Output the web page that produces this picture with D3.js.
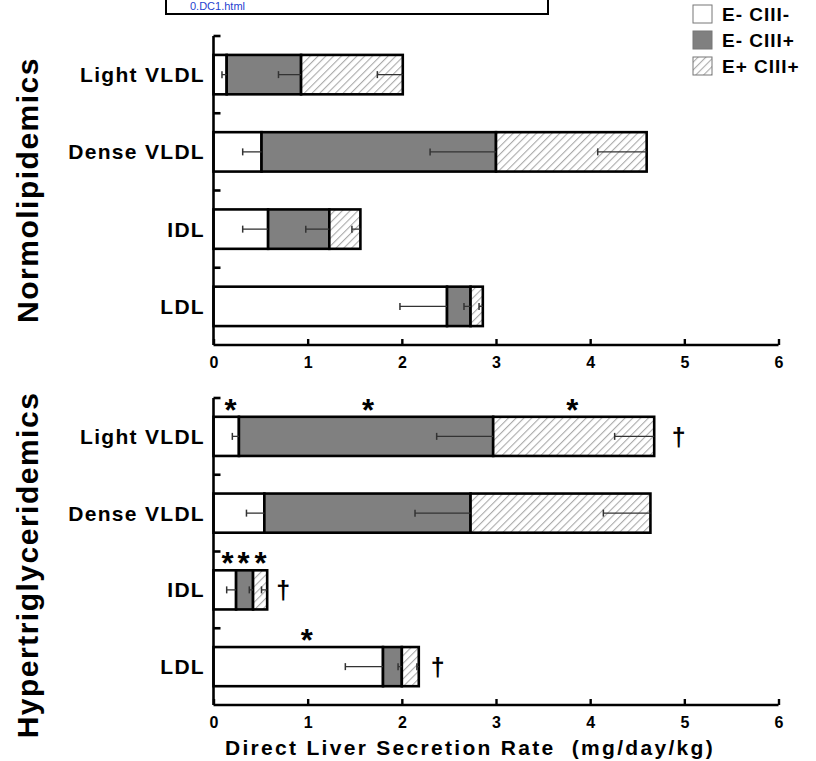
<!DOCTYPE html>
<html><head><meta charset="utf-8">
<script src="https://cdn.jsdelivr.net/npm/d3@7"></script>
<style>body{margin:0;background:#fff}svg{display:block;font-family:"Liberation Sans",Arial,sans-serif}</style>
</head><body>
<script>
const categories = ["Light VLDL","Dense VLDL","IDL","LDL"];
const seriesNames = ["E- CIII-","E- CIII+","E+ CIII+"];
const xTicks = [0,1,2,3,4,5,6];
// segment values (stacked), per category: [E- CIII-, E- CIII+, E+ CIII+]
const normoValues = [[0.14,0.79,1.08],[0.51,2.49,1.60],[0.58,0.65,0.33],[2.48,0.25,0.13]];
const normoErrors = [[0.05,0.24,0.27],[0.20,0.70,0.52],[0.27,0.25,0.09],[0.50,0.07,0.04]];
const hyperValues = [[0.27,2.70,1.71],[0.54,2.19,1.91],[0.24,0.18,0.15],[1.80,0.20,0.18]];
const hyperErrors = [[0.07,0.60,0.42],[0.19,0.59,0.50],[0.10,0.04,0.06],[0.40,0.04,0.02]];
// significance marks (hyper panel)
const asteriskMarks = [{cat:"Light VLDL",x:0.18},{cat:"Light VLDL",x:1.64},{cat:"Light VLDL",x:3.81},
  {cat:"IDL",x:0.15},{cat:"IDL",x:0.32},{cat:"IDL",x:0.50},{cat:"LDL",x:0.99}];
const daggerMarks = [{cat:"Light VLDL",x:4.94},{cat:"IDL",x:0.74},{cat:"LDL",x:2.38}];

const W=816,H=761;
const svg=d3.select("body").append("svg").attr("width",W).attr("height",H);
const defs=svg.append("defs");
const pat=defs.append("pattern").attr("id","hatch").attr("patternUnits","userSpaceOnUse")
  .attr("width",5.5).attr("height",5.5).attr("patternTransform","rotate(45)");
pat.append("rect").attr("width",5.5).attr("height",5.5).attr("fill","#fff");
pat.append("line").attr("x1",0).attr("y1",0).attr("x2",0).attr("y2",5.5).attr("stroke","#aaaaaa").attr("stroke-width",2.2);
const fills=["#ffffff","#808080","url(#hatch)"];

const x=d3.scaleLinear().domain([0,6]).range([213.5,778.5]);

function panel(top,bottom,values,errors,title,titleY,marks){
  const g=svg.append("g");
  const y=d3.scaleBand().domain(categories).range([top,bottom]).paddingInner(0.49).paddingOuter(0.245);
  const step=y.step();
  categories.forEach((c,i)=>{
    let cum=0;
    values[i].forEach((v,j)=>{
      g.append("rect").attr("x",x(cum)).attr("y",y(c)).attr("width",x(cum+v)-x(cum)).attr("height",y.bandwidth())
        .attr("fill",fills[j]).attr("stroke","#000").attr("stroke-width",2.6);
      cum+=v;
    });
  });
  categories.forEach((c,i)=>{
    let cum=0;
    values[i].forEach((v,j)=>{
      cum+=v;
      const e=errors[i][j], cy=y(c)+y.bandwidth()/2;
      g.append("line").attr("x1",x(cum)).attr("x2",x(cum-e)).attr("y1",cy).attr("y2",cy).attr("stroke","#333").attr("stroke-width",1.3);
      g.append("line").attr("x1",x(cum-e)).attr("x2",x(cum-e)).attr("y1",cy-3.5).attr("y2",cy+3.5).attr("stroke","#333").attr("stroke-width",1.5);
    });
  });
  g.append("line").attr("x1",x(0)).attr("x2",x(0)).attr("y1",top).attr("y2",bottom).attr("stroke","#000").attr("stroke-width",2.6);
  for(let k=0;k<categories.length;k++){
    const yy=top+k*step;
    g.append("line").attr("x1",x(0)).attr("x2",x(0)+7).attr("y1",yy).attr("y2",yy).attr("stroke","#000").attr("stroke-width",2.6);
  }
  const ax=g.append("g").attr("transform",`translate(0,${bottom})`)
    .call(d3.axisBottom(x).tickValues(xTicks).tickSize(-6).tickPadding(12).tickFormat(d3.format("d")));
  ax.select(".domain").attr("stroke-width",2.6).attr("d",`M${x(0)},0H${x(6)}`);
  ax.selectAll(".tick line").attr("stroke-width",2.4);
  ax.selectAll("text").attr("font-size",16).attr("font-weight","bold").attr("fill","#000").attr("font-family","Liberation Sans, Arial, sans-serif");
  categories.forEach(c=>{
    g.append("text").attr("x",205).attr("y",y(c)+y.bandwidth()/2).attr("dy","0.36em").attr("text-anchor","end")
      .attr("font-size",21).attr("font-weight","bold").attr("letter-spacing",1.3).text(c);
  });
  g.append("text").attr("transform",`translate(38,${titleY}) rotate(-90)`).attr("text-anchor","middle")
    .attr("font-size",30).attr("font-weight","bold").attr("letter-spacing",1.5).text(title);
  if(marks){
    marks.asterisks.forEach(m=>{
      g.append("text").attr("x",x(m.x)).attr("y",y(m.cat)+4).attr("text-anchor","middle")
        .attr("font-size",31).attr("font-weight","bold").text("*");
    });
    marks.daggers.forEach(m=>{
      g.append("text").attr("x",x(m.x)).attr("y",y(m.cat)+y.bandwidth()/2).attr("dy","0.38em").attr("text-anchor","middle")
        .attr("font-size",25).attr("font-weight","bold").text("†");
    });
  }
}
panel(36,345,normoValues,normoErrors,"Normolipidemics",190,null);
panel(398,705,hyperValues,hyperErrors,"Hypertriglyceridemics",565,{asterisks:asteriskMarks,daggers:daggerMarks});

svg.append("text").attr("x",470).attr("y",755).attr("text-anchor","middle").attr("font-size",21).attr("font-weight","bold")
  .attr("letter-spacing",2.3).attr("xml:space","preserve").text("Direct Liver Secretion Rate  (mg/day/kg)");

const lg=svg.append("g");
seriesNames.forEach((s,i)=>{
  const yy=5+i*26;
  lg.append("rect").attr("x",693).attr("y",yy).attr("width",19).attr("height",18).attr("fill",fills[i]).attr("stroke","#777").attr("stroke-width",1);
  lg.append("text").attr("x",722).attr("y",yy+16).attr("font-size",19).attr("font-weight","bold").attr("letter-spacing",1).text(s);
});

svg.append("rect").attr("x",166).attr("y",-6).attr("width",382).attr("height",20).attr("fill","#fff").attr("stroke","#000").attr("stroke-width",2);
svg.append("text").attr("x",190).attr("y",10).attr("font-size",11).attr("fill","#1f3fd0").text("0.DC1.html");
</script>
</body></html>
